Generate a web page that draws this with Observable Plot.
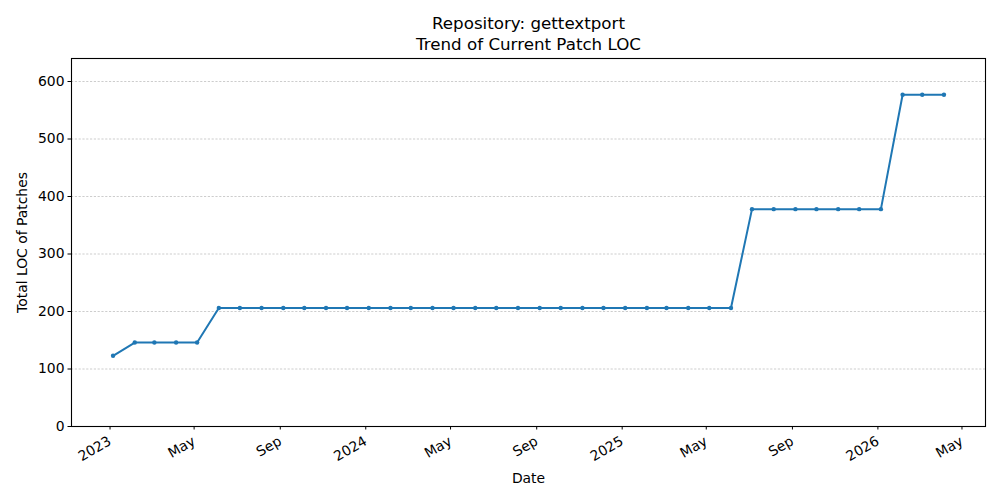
<!DOCTYPE html>
<html>
<head>
<meta charset="utf-8">
<script src="https://cdn.jsdelivr.net/npm/d3@7"></script>
<script src="https://cdn.jsdelivr.net/npm/@observablehq/plot@0.6"></script>
<style>
  html, body { margin: 0; padding: 0; background: #fff; }
  #chart svg { display: block; }
</style>
</head>
<body>
<div id="chart"></div>
<script>
const titleLines = ["Repository: gettextport", "Trend of Current Patch LOC"];
const xLabel = "Date";
const yLabel = "Total LOC of Patches";

const months = [
  "2023-01","2023-02","2023-03","2023-04","2023-05","2023-06","2023-07","2023-08","2023-09","2023-10","2023-11","2023-12",
  "2024-01","2024-02","2024-03","2024-04","2024-05","2024-06","2024-07","2024-08","2024-09","2024-10","2024-11","2024-12",
  "2025-01","2025-02","2025-03","2025-04","2025-05","2025-06","2025-07","2025-08","2025-09","2025-10","2025-11","2025-12",
  "2026-01","2026-02","2026-03","2026-04"
];
const loc = [
  123, 146, 146, 146, 146, 206, 206, 206, 206, 206, 206, 206,
  206, 206, 206, 206, 206, 206, 206, 206, 206, 206, 206, 206,
  206, 206, 206, 206, 206, 206, 378, 378, 378, 378, 378, 378,
  378, 577, 577, 577
];

const xTickDates = ["2023-01","2023-05","2023-09","2024-01","2024-05","2024-09","2025-01","2025-05","2025-09","2026-01","2026-05"];
const xTickLabels = ["2023","May","Sep","2024","May","Sep","2025","May","Sep","2026","May"];
const yTicks = [0, 100, 200, 300, 400, 500, 600];

const parse = s => new Date(s + "-01T00:00:00Z");
const data = months.map((m, i) => ({date: parse(m), value: loc[i]}));
const xTicks = xTickDates.map(parse);
const labelOf = new Map(xTicks.map((d, i) => [+d, xTickLabels[i]]));

const t0 = +data[0].date, t1 = +data[data.length - 1].date;
const pad = (t1 - t0) * 0.05;

const chart = Plot.plot({
  width: 1000,
  height: 500,
  marginLeft: 71,
  marginRight: 15,
  marginTop: 58,
  marginBottom: 74,
  style: {fontFamily: "DejaVu Sans", fontSize: "13.9px", color: "black", background: "white"},
  x: {type: "utc", domain: [new Date(t0 - pad), new Date(t1 + pad)]},
  y: {domain: [0, 640]},
  marks: [
    Plot.gridY(yTicks, {stroke: "#b8b8b8", strokeOpacity: 1, strokeWidth: 0.7, strokeDasharray: "2.2,1.6"}),
    Plot.axisY(yTicks, {tickSize: 3.5, tickPadding: 3.5, fontSize: 13.9, label: null, stroke: "black"}),
    Plot.axisX(xTicks, {
      tickSize: 3.5, tickPadding: 10, tickRotate: -30, fontSize: 13.9, label: null,
      textAnchor: "end", lineAnchor: "middle", dx: -3,
      tickFormat: d => labelOf.get(+d), stroke: "black"
    }),
    Plot.lineY(data, {x: "date", y: "value", stroke: "#1f77b4", strokeWidth: 2}),
    Plot.dot(data, {x: "date", y: "value", r: 2.2, fill: "#1f77b4", stroke: "none"}),
    Plot.frame({stroke: "black", strokeWidth: 1.1}),
    Plot.text([titleLines[0]], {frameAnchor: "top", lineAnchor: "middle", textAnchor: "middle", dy: -34.5, fontSize: 16.7, text: d => d, fill: "black"}),
    Plot.text([titleLines[1]], {frameAnchor: "top", lineAnchor: "middle", textAnchor: "middle", dy: -13.5, fontSize: 16.7, text: d => d, fill: "black"}),
    Plot.text([xLabel], {frameAnchor: "bottom", lineAnchor: "middle", textAnchor: "middle", dy: 52, text: d => d, fill: "black"}),
    Plot.text([yLabel], {frameAnchor: "left", lineAnchor: "middle", textAnchor: "middle", dx: -49, rotate: -90, text: d => d, fill: "black"})
  ]
});
document.getElementById("chart").appendChild(chart);
</script>
</body>
</html>
